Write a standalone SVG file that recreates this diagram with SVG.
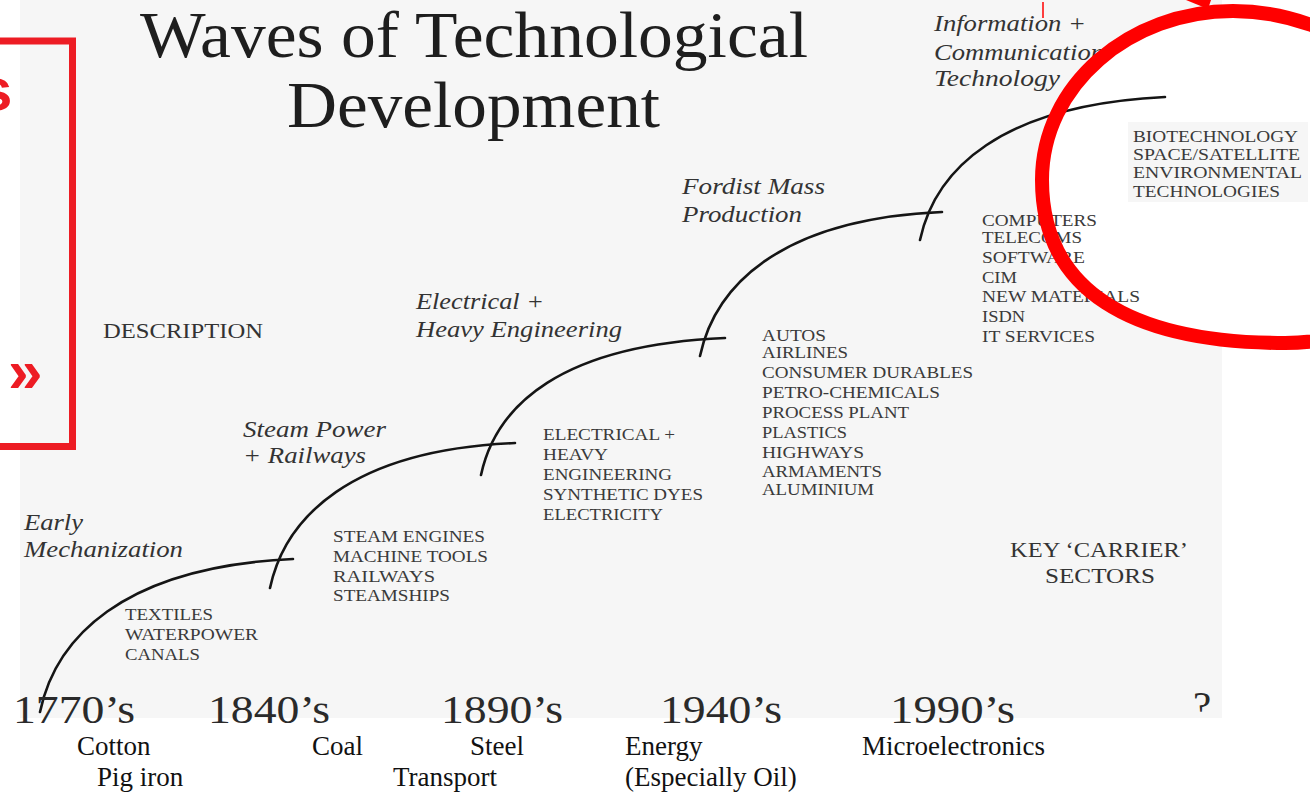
<svg xmlns="http://www.w3.org/2000/svg" xmlns:xlink="http://www.w3.org/1999/xlink" width="1310" height="801" viewBox="0 0 1310 801">
<defs>
<style>
.bg{fill:#f6f6f6}
.title{font-family:"Liberation Serif",serif;font-size:66px;fill:#1e1e1e}
.ital{font-family:"Liberation Serif",serif;font-style:italic;font-size:23px;fill:#333}
.caps{font-family:"Liberation Serif",serif;font-size:17.5px;fill:#3a3a3a}
.head{font-family:"Liberation Serif",serif;font-size:22px;fill:#333}
.year{font-family:"Liberation Serif",serif;font-size:41px;fill:#2a2a2a}
.res{font-family:"Liberation Serif",serif;font-size:27px;fill:#111}
.wave{fill:none;stroke:#151515;stroke-width:2.6;stroke-linecap:round}
.red{fill:#ed1c24;font-family:"Liberation Sans",Arial,sans-serif;font-weight:bold}
</style>
<path id="ring" d="M1042,180 C1042,85 1130,11 1233,11 C1340,11 1440,90 1440,180 C1440,270 1390,343 1285,343 C1130,343 1042,290 1042,180 Z"/>
<clipPath id="scan"><rect x="20" y="0" width="1202" height="713"/></clipPath>
</defs>
<rect width="1310" height="801" fill="#ffffff"/>
<rect class="bg" x="20" y="0" width="1202" height="718"/>
<use xlink:href="#ring" href="#ring" fill="#ffffff"/>
<rect class="bg" x="1128" y="122" width="180" height="80"/>

<g id="title">
<text class="title" x="140" y="57" textLength="668" lengthAdjust="spacingAndGlyphs">Waves of Technological</text>
<text class="title" x="287" y="127" textLength="373" lengthAdjust="spacingAndGlyphs">Development</text>
</g>

<g id="row-labels">
<text class="head" x="103" y="338" textLength="160" lengthAdjust="spacingAndGlyphs">DESCRIPTION</text>
<text class="head" x="1010" y="557" textLength="178" lengthAdjust="spacingAndGlyphs">KEY ‘CARRIER’</text>
<text class="head" x="1045" y="583" textLength="110" lengthAdjust="spacingAndGlyphs">SECTORS</text>
</g>

<g id="connectors">
<path class="wave" d="M40,712 C55,640 120,567 293,559"/>
<path class="wave" d="M270,588 C285,518 350,450 515,443"/>
<path class="wave" d="M481,475 C496,405 561,345 725,338"/>
<path class="wave" d="M700,356 C715,286 780,219 942,212"/>
<path class="wave" d="M920,240 C935,170 1000,105 1165,97"/>
</g>

<g id="wave1">
<text class="ital" x="24" y="530" textLength="59" lengthAdjust="spacingAndGlyphs">Early</text>
<text class="ital" x="24" y="557" textLength="159" lengthAdjust="spacingAndGlyphs">Mechanization</text>
<text class="caps" x="125" y="620" textLength="88" lengthAdjust="spacingAndGlyphs">TEXTILES</text>
<text class="caps" x="125" y="640" textLength="133" lengthAdjust="spacingAndGlyphs">WATERPOWER</text>
<text class="caps" x="125" y="660" textLength="75" lengthAdjust="spacingAndGlyphs">CANALS</text>
<text class="year" x="13" y="723" textLength="122" lengthAdjust="spacingAndGlyphs">1770’s</text>
<text class="res" x="77" y="755">Cotton</text>
<text class="res" x="97" y="786">Pig iron</text>
</g>

<g id="wave2">
<text class="ital" x="243" y="437" textLength="143" lengthAdjust="spacingAndGlyphs">Steam Power</text>
<text class="ital" x="243" y="463" textLength="123" lengthAdjust="spacingAndGlyphs">+ Railways</text>
<text class="caps" x="333" y="542" textLength="152" lengthAdjust="spacingAndGlyphs">STEAM ENGINES</text>
<text class="caps" x="333" y="562" textLength="155" lengthAdjust="spacingAndGlyphs">MACHINE TOOLS</text>
<text class="caps" x="333" y="582" textLength="102" lengthAdjust="spacingAndGlyphs">RAILWAYS</text>
<text class="caps" x="333" y="601" textLength="117" lengthAdjust="spacingAndGlyphs">STEAMSHIPS</text>
<text class="year" x="208" y="723" textLength="122" lengthAdjust="spacingAndGlyphs">1840’s</text>
<text class="res" x="312" y="755">Coal</text>
<text class="res" x="393" y="786">Transport</text>
</g>

<g id="wave3">
<text class="ital" x="416" y="309" textLength="128" lengthAdjust="spacingAndGlyphs">Electrical +</text>
<text class="ital" x="416" y="337" textLength="206" lengthAdjust="spacingAndGlyphs">Heavy Engineering</text>
<text class="caps" x="543" y="440" textLength="132" lengthAdjust="spacingAndGlyphs">ELECTRICAL +</text>
<text class="caps" x="543" y="460" textLength="65" lengthAdjust="spacingAndGlyphs">HEAVY</text>
<text class="caps" x="543" y="480" textLength="129" lengthAdjust="spacingAndGlyphs">ENGINEERING</text>
<text class="caps" x="543" y="500" textLength="160" lengthAdjust="spacingAndGlyphs">SYNTHETIC DYES</text>
<text class="caps" x="543" y="520" textLength="120" lengthAdjust="spacingAndGlyphs">ELECTRICITY</text>
<text class="year" x="441" y="723" textLength="122" lengthAdjust="spacingAndGlyphs">1890’s</text>
<text class="res" x="470" y="755">Steel</text>
</g>

<g id="wave4">
<text class="ital" x="682" y="194" textLength="143" lengthAdjust="spacingAndGlyphs">Fordist Mass</text>
<text class="ital" x="682" y="222" textLength="120" lengthAdjust="spacingAndGlyphs">Production</text>
<text class="caps" x="762" y="341" textLength="64" lengthAdjust="spacingAndGlyphs">AUTOS</text>
<text class="caps" x="762" y="358" textLength="86" lengthAdjust="spacingAndGlyphs">AIRLINES</text>
<text class="caps" x="762" y="378" textLength="211" lengthAdjust="spacingAndGlyphs">CONSUMER DURABLES</text>
<text class="caps" x="762" y="398" textLength="178" lengthAdjust="spacingAndGlyphs">PETRO-CHEMICALS</text>
<text class="caps" x="762" y="418" textLength="147" lengthAdjust="spacingAndGlyphs">PROCESS PLANT</text>
<text class="caps" x="762" y="438" textLength="85" lengthAdjust="spacingAndGlyphs">PLASTICS</text>
<text class="caps" x="762" y="458" textLength="102" lengthAdjust="spacingAndGlyphs">HIGHWAYS</text>
<text class="caps" x="762" y="477" textLength="120" lengthAdjust="spacingAndGlyphs">ARMAMENTS</text>
<text class="caps" x="762" y="495" textLength="112" lengthAdjust="spacingAndGlyphs">ALUMINIUM</text>
<text class="year" x="660" y="723" textLength="122" lengthAdjust="spacingAndGlyphs">1940’s</text>
<text class="res" x="625" y="755">Energy</text>
<text class="res" x="625" y="786">(Especially Oil)</text>
</g>

<g id="wave5">
<text class="ital" x="934" y="31" textLength="152" lengthAdjust="spacingAndGlyphs">Information +</text>
<text class="ital" x="934" y="60" textLength="170" lengthAdjust="spacingAndGlyphs">Communication</text>
<text class="ital" x="934" y="86" textLength="126" lengthAdjust="spacingAndGlyphs">Technology</text>
<text class="caps" x="982" y="226" textLength="115" lengthAdjust="spacingAndGlyphs">COMPUTERS</text>
<text class="caps" x="982" y="243" textLength="100" lengthAdjust="spacingAndGlyphs">TELECOMS</text>
<text class="caps" x="982" y="263" textLength="103" lengthAdjust="spacingAndGlyphs">SOFTWARE</text>
<text class="caps" x="982" y="283" textLength="35" lengthAdjust="spacingAndGlyphs">CIM</text>
<text class="caps" x="982" y="302" textLength="158" lengthAdjust="spacingAndGlyphs">NEW MATERIALS</text>
<text class="caps" x="982" y="322" textLength="43" lengthAdjust="spacingAndGlyphs">ISDN</text>
<text class="caps" x="982" y="342" textLength="113" lengthAdjust="spacingAndGlyphs">IT SERVICES</text>
<text class="year" x="890" y="723" textLength="125" lengthAdjust="spacingAndGlyphs">1990’s</text>
<text class="res" x="862" y="755">Microelectronics</text>
</g>

<g id="wave6">
<text class="caps" x="1133" y="142" textLength="165" lengthAdjust="spacingAndGlyphs">BIOTECHNOLOGY</text>
<text class="caps" x="1133" y="160" textLength="167" lengthAdjust="spacingAndGlyphs">SPACE/SATELLITE</text>
<text class="caps" x="1133" y="178" textLength="169" lengthAdjust="spacingAndGlyphs">ENVIRONMENTAL</text>
<text class="caps" x="1133" y="197" textLength="147" lengthAdjust="spacingAndGlyphs">TECHNOLOGIES</text>
<text class="year" x="1193" y="719" font-size="25" clip-path="url(#scan)">?</text>
</g>

<g id="annotations">
<rect x="-10" y="41" width="82.5" height="405.5" fill="none" stroke="#ed1c24" stroke-width="7"/>
<text class="red" x="-21" y="110" font-size="60">s</text>
<text class="red" x="8" y="392" font-size="62">»</text>
<use xlink:href="#ring" href="#ring" fill="none" stroke="#ff0000" stroke-width="14"/>
<polygon points="1186,0 1211,0 1208,9" fill="#ff0000"/>
<line x1="1043" y1="2" x2="1043" y2="18" stroke="#ff0000" stroke-width="1.5"/>
</g>
</svg>
